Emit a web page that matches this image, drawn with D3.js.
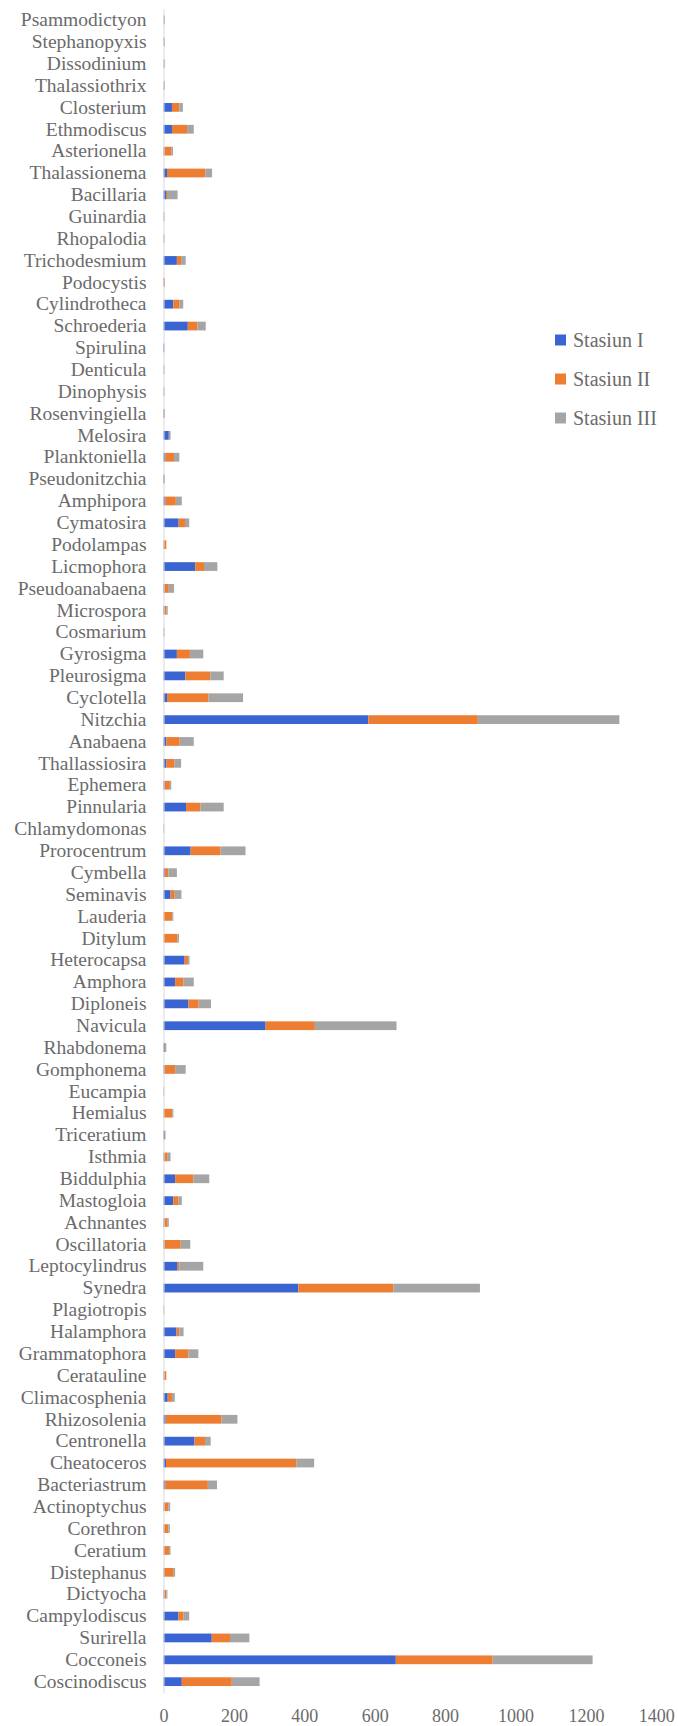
<!DOCTYPE html>
<html>
<head>
<meta charset="utf-8">
<script src="https://cdn.jsdelivr.net/npm/d3@7"></script>
<style>
  html, body { margin: 0; padding: 0; background: #fff; }
  svg { display: block; }
</style>
</head>
<body>
<svg id="chart" width="678" height="1726"></svg>
<script>
// Genera, listed top to bottom
const categories = [
  "Psammodictyon","Stephanopyxis","Dissodinium","Thalassiothrix","Closterium","Ethmodiscus",
  "Asterionella","Thalassionema","Bacillaria","Guinardia","Rhopalodia","Trichodesmium",
  "Podocystis","Cylindrotheca","Schroederia","Spirulina","Denticula","Dinophysis",
  "Rosenvingiella","Melosira","Planktoniella","Pseudonitzchia","Amphipora","Cymatosira",
  "Podolampas","Licmophora","Pseudoanabaena","Microspora","Cosmarium","Gyrosigma",
  "Pleurosigma","Cyclotella","Nitzchia","Anabaena","Thallassiosira","Ephemera",
  "Pinnularia","Chlamydomonas","Prorocentrum","Cymbella","Seminavis","Lauderia",
  "Ditylum","Heterocapsa","Amphora","Diploneis","Navicula","Rhabdonema",
  "Gomphonema","Eucampia","Hemialus","Triceratium","Isthmia","Biddulphia",
  "Mastogloia","Achnantes","Oscillatoria","Leptocylindrus","Synedra","Plagiotropis",
  "Halamphora","Grammatophora","Ceratauline","Climacosphenia","Rhizosolenia","Centronella",
  "Cheatoceros","Bacteriastrum","Actinoptychus","Corethron","Ceratium","Distephanus",
  "Dictyocha","Campylodiscus","Surirella","Cocconeis","Coscinodiscus"
];

const seriesNames = ["Stasiun I", "Stasiun II", "Stasiun III"];

const stasiunI = [
  0,0,0,0,24,24, 2,10,7,0,0,38, 1,28,69,2,0,0, 3,15,5,3,5,43,
  1,90,3,3,0,38, 62,10,582,8,8,3, 64,0,77,4,20,0, 0,60,33,71,290,5,
  3,0,1,4,2,33, 28,2,2,40,383,0, 37,33,2,12,6,88, 7,5,2,1,1,1,
  2,42,137,660,52
];
const stasiunII = [
  1,1,1,1,21,43, 20,109,3,1,1,12, 3,18,27,0,1,1, 1,0,25,1,30,18,
  7,25,12,6,1,37, 71,118,311,38,23,15, 41,1,85,10,12,25, 40,10,24,29,140,2,
  30,1,24,1,10,52, 15,10,47,5,270,1, 8,38,6,12,159,30, 371,121,12,13,15,28,
  6,15,52,275,142
];
const stasiunIII = [
  3,3,3,3,10,19, 5,19,30,2,2,13, 0,10,24,1,2,2, 0,5,15,0,17,12,
  0,38,15,3,2,38, 38,98,402,40,19,4, 66,1,71,24,19,3, 4,4,29,35,232,1,
  30,1,3,1,8,45, 9,3,27,68,246,1, 12,28,0,8,45,16, 50,26,5,4,4,4,
  3,16,55,284,79
];

const xTicks = [0, 200, 400, 600, 800, 1000, 1200, 1400];
const colors = ["#3a64d2", "#ed7d31", "#a5a5a5"];
const FONT = "'Liberation Serif', 'Times New Roman', serif";
const TEXT_COLOR = "#6b6b6b";

const rows = categories.map((c, i) => ({
  name: c,
  "Stasiun I": stasiunI[i],
  "Stasiun II": stasiunII[i],
  "Stasiun III": stasiunIII[i]
}));

const svg = d3.select("#chart");

const x = d3.scaleLinear().domain([0, 1400]).range([163.5, 656.3]);
const y = d3.scaleBand().domain(categories).range([9, 1692.6])
  .paddingInner(0.6).paddingOuter(0.3);
const color = d3.scaleOrdinal().domain(seriesNames).range(colors);

const stacked = d3.stack().keys(seriesNames)(rows);

// stacked bars
svg.append("g").selectAll("g")
  .data(stacked)
  .join("g")
  .attr("fill", d => color(d.key))
  .selectAll("rect")
  .data(d => d)
  .join("rect")
  .attr("x", d => x(d[0]))
  .attr("width", d => Math.max(0, x(d[1]) - x(d[0])))
  .attr("y", d => y(d.data.name))
  .attr("height", y.bandwidth());

// category axis (left)
const yAxis = svg.append("g")
  .attr("transform", `translate(${x(0)},0)`)
  .call(d3.axisLeft(y).tickSize(0).tickPadding(17));
yAxis.attr("font-family", null).attr("font-size", null);
yAxis.select(".domain").attr("stroke", "#d9d9d9").attr("stroke-width", 1);
yAxis.selectAll("text")
  .style("font-family", FONT)
  .style("font-size", "19.5px")
  .attr("fill", TEXT_COLOR);

// value axis (bottom), labels only
const xAxis = svg.append("g")
  .attr("transform", "translate(0,1693)")
  .call(d3.axisBottom(x).tickValues(xTicks).tickFormat(d3.format("d"))
    .tickSize(0).tickPadding(16));
xAxis.attr("font-family", null).attr("font-size", null);
xAxis.select(".domain").remove();
xAxis.selectAll("text")
  .style("font-family", FONT)
  .style("font-size", "18px")
  .attr("fill", TEXT_COLOR);

// legend
const legend = svg.append("g")
  .selectAll("g")
  .data(seriesNames)
  .join("g")
  .attr("transform", (d, i) => `translate(555,${340 + i * 39})`);
legend.append("rect")
  .attr("x", 0).attr("y", -5.5)
  .attr("width", 11).attr("height", 11)
  .attr("fill", d => color(d));
legend.append("text")
  .attr("x", 18).attr("y", 0)
  .attr("dy", "0.35em")
  .style("font-family", FONT)
  .style("font-size", "20px")
  .attr("fill", TEXT_COLOR)
  .text(d => d);
</script>
</body>
</html>
